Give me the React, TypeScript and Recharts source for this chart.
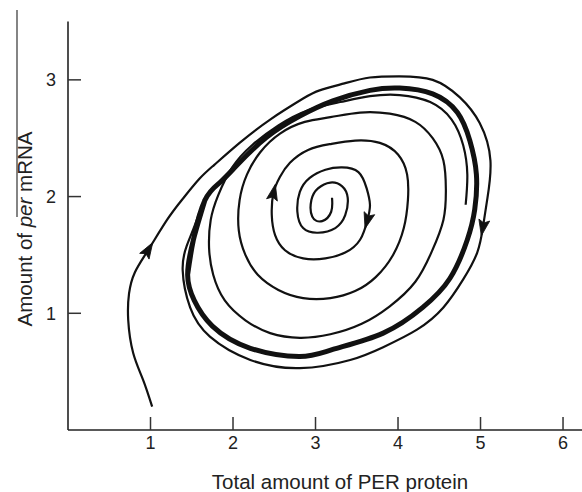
import React from 'react';
import { LineChart, Line, XAxis, YAxis } from 'recharts';

// Axis ticks and labels
const xTicks = [1, 2, 3, 4, 5, 6];
const yTicks = [1, 2, 3];
const xTitle = 'Total amount of PER protein';
const yTitleParts = ['Amount of ', 'per', ' mRNA'];

// Trajectory starting near (1, 0.2), spiralling onto the limit cycle from outside
const outerTrajectory = [
  { x: 1.02, y: 0.20 }, { x: 0.91, y: 0.43 }, { x: 0.79, y: 0.66 }, { x: 0.73, y: 0.94 },
  { x: 0.74, y: 1.17 }, { x: 0.81, y: 1.35 }, { x: 0.97, y: 1.54 }, { x: 1.20, y: 1.80 },
  { x: 1.39, y: 1.98 }, { x: 1.59, y: 2.15 }, { x: 1.77, y: 2.27 }, { x: 2.08, y: 2.46 },
  { x: 2.45, y: 2.66 }, { x: 2.85, y: 2.84 }, { x: 3.05, y: 2.91 }, { x: 3.35, y: 2.97 },
  { x: 3.66, y: 3.02 }, { x: 4.02, y: 3.03 }, { x: 4.42, y: 3.00 }, { x: 4.75, y: 2.85 },
  { x: 4.99, y: 2.63 }, { x: 5.12, y: 2.31 }, { x: 5.08, y: 1.97 }, { x: 5.03, y: 1.74 },
  { x: 4.96, y: 1.52 }, { x: 4.79, y: 1.29 }, { x: 4.55, y: 1.05 }, { x: 4.23, y: 0.86 },
  { x: 3.82, y: 0.71 }, { x: 3.42, y: 0.60 }, { x: 2.81, y: 0.53 }, { x: 2.21, y: 0.60 },
  { x: 1.72, y: 0.80 }, { x: 1.48, y: 1.05 }, { x: 1.39, y: 1.37 }, { x: 1.44, y: 1.58 },
  { x: 1.54, y: 1.76 }, { x: 1.66, y: 1.97 }, { x: 1.84, y: 2.13 }, { x: 2.05, y: 2.28 },
];
const outerArrows = [6, 23];

// Limit cycle (thick closed orbit)
const limitCycle = [
  { x: 1.45, y: 1.33 }, { x: 1.52, y: 1.63 }, { x: 1.66, y: 1.97 }, { x: 1.84, y: 2.12 },
  { x: 2.05, y: 2.27 }, { x: 2.41, y: 2.51 }, { x: 2.81, y: 2.69 }, { x: 3.21, y: 2.82 },
  { x: 3.66, y: 2.91 }, { x: 4.02, y: 2.93 }, { x: 4.42, y: 2.88 }, { x: 4.72, y: 2.72 },
  { x: 4.87, y: 2.48 }, { x: 4.95, y: 2.19 }, { x: 4.93, y: 1.89 }, { x: 4.84, y: 1.63 },
  { x: 4.63, y: 1.30 }, { x: 4.30, y: 1.05 }, { x: 3.82, y: 0.83 }, { x: 3.21, y: 0.69 },
  { x: 2.81, y: 0.63 }, { x: 2.21, y: 0.70 }, { x: 1.75, y: 0.89 }, { x: 1.53, y: 1.11 },
  { x: 1.45, y: 1.33 }, { x: 1.52, y: 1.63 }, { x: 1.66, y: 1.97 },
];

// Trajectory spiralling out from the unstable steady state
const innerSpiral = [
  { x: 3.20, y: 1.99 }, { x: 3.19, y: 1.87 }, { x: 3.08, y: 1.79 }, { x: 2.96, y: 1.83 },
  { x: 2.95, y: 1.97 }, { x: 3.03, y: 2.07 }, { x: 3.18, y: 2.12 }, { x: 3.32, y: 2.09 },
  { x: 3.39, y: 1.99 }, { x: 3.36, y: 1.84 }, { x: 3.24, y: 1.73 }, { x: 3.03, y: 1.69 },
  { x: 2.85, y: 1.73 }, { x: 2.78, y: 1.87 }, { x: 2.81, y: 2.04 }, { x: 2.93, y: 2.16 },
  { x: 3.12, y: 2.23 }, { x: 3.32, y: 2.25 }, { x: 3.52, y: 2.21 }, { x: 3.62, y: 2.07 },
  { x: 3.66, y: 1.93 }, { x: 3.63, y: 1.80 }, { x: 3.54, y: 1.63 }, { x: 3.36, y: 1.52 },
  { x: 3.12, y: 1.47 }, { x: 2.85, y: 1.47 }, { x: 2.63, y: 1.54 }, { x: 2.51, y: 1.67 },
  { x: 2.47, y: 1.84 }, { x: 2.49, y: 2.03 }, { x: 2.57, y: 2.17 }, { x: 2.69, y: 2.29 },
  { x: 2.91, y: 2.40 }, { x: 3.18, y: 2.45 }, { x: 3.48, y: 2.48 }, { x: 3.78, y: 2.46 },
  { x: 4.00, y: 2.36 }, { x: 4.11, y: 2.19 }, { x: 4.12, y: 1.97 }, { x: 4.07, y: 1.73 },
  { x: 3.94, y: 1.50 }, { x: 3.73, y: 1.31 }, { x: 3.48, y: 1.19 }, { x: 3.18, y: 1.13 },
  { x: 2.85, y: 1.13 }, { x: 2.55, y: 1.20 }, { x: 2.30, y: 1.33 }, { x: 2.15, y: 1.50 },
  { x: 2.07, y: 1.71 }, { x: 2.08, y: 1.97 }, { x: 2.17, y: 2.19 }, { x: 2.33, y: 2.38 },
  { x: 2.57, y: 2.54 }, { x: 2.87, y: 2.64 }, { x: 3.18, y: 2.68 }, { x: 3.54, y: 2.72 },
  { x: 3.90, y: 2.71 }, { x: 4.21, y: 2.64 }, { x: 4.42, y: 2.50 }, { x: 4.55, y: 2.31 },
  { x: 4.58, y: 2.06 }, { x: 4.55, y: 1.80 }, { x: 4.41, y: 1.53 }, { x: 4.21, y: 1.27 },
  { x: 3.90, y: 1.06 }, { x: 3.56, y: 0.91 }, { x: 3.18, y: 0.82 }, { x: 2.81, y: 0.79 },
  { x: 2.45, y: 0.83 }, { x: 2.15, y: 0.94 }, { x: 1.90, y: 1.11 }, { x: 1.76, y: 1.33 },
  { x: 1.71, y: 1.56 }, { x: 1.73, y: 1.80 }, { x: 1.82, y: 2.01 }, { x: 1.99, y: 2.25 },
  { x: 2.23, y: 2.44 }, { x: 2.55, y: 2.61 }, { x: 2.91, y: 2.74 }, { x: 3.30, y: 2.81 },
  { x: 3.66, y: 2.86 }, { x: 4.02, y: 2.87 }, { x: 4.39, y: 2.81 }, { x: 4.65, y: 2.66 },
  { x: 4.79, y: 2.44 }, { x: 4.84, y: 2.19 }, { x: 4.82, y: 1.93 },
];
const innerArrows = [21, 29];

const FONT = '"Liberation Sans", Arial, Helvetica, sans-serif';
const INK = '#111';

function makeArrowDot(marks: number[]) {
  return (props: any) => {
    const { cx, cy, index, points } = props;
    if (!marks.includes(index) || !points) return <g key={`d-${index}`} />;
    const prev = points[Math.max(0, index - 1)];
    const next = points[Math.min(points.length - 1, index + 1)];
    const ang = (Math.atan2(next.y - prev.y, next.x - prev.x) * 180) / Math.PI;
    return (
      <path
        key={`d-${index}`}
        d="M 9 0 L -7 -5.5 L -4 0 L -7 5.5 Z"
        transform={`translate(${cx},${cy}) rotate(${ang})`}
        fill={INK}
        stroke={INK}
        strokeWidth={0.8}
      />
    );
  };
}

const XTick = (props: any) => {
  const { x, y, payload } = props;
  return (
    <g>
      <line x1={x} y1={y} x2={x} y2={y - 13} stroke="#333" strokeWidth={1.5} />
      <text x={x} y={y + 19} textAnchor="middle" fontSize={18} fontFamily={FONT} fill="#222">
        {payload.value}
      </text>
    </g>
  );
};

const YTick = (props: any) => {
  const { x, y, payload } = props;
  return (
    <g>
      <line x1={x} y1={y} x2={x + 13} y2={y} stroke="#333" strokeWidth={1.5} />
      <text x={x - 12} y={y + 6.5} textAnchor="end" fontSize={18} fontFamily={FONT} fill="#222">
        {payload.value}
      </text>
    </g>
  );
};

const XTitle = () => (
  <text x={340} y={489} textAnchor="middle" fontSize={20.5} fontFamily={FONT} fill="#222">
    {xTitle}
  </text>
);

const YTitle = () => (
  <g>
    <path d="M 17 10 L 17 217" stroke="#333" strokeWidth={1.2} fill="none" />
    <text
      transform="translate(32,229) rotate(-90)"
      textAnchor="middle"
      fontSize={20.5}
      fontFamily={FONT}
      fill="#222"
    >
      {yTitleParts[0]}
      <tspan fontStyle="italic">{yTitleParts[1]}</tspan>
      {yTitleParts[2]}
    </text>
  </g>
);

export default function App() {
  return (
    <div style={{ position: 'absolute', left: 0, top: 0, width: 582, height: 492, background: '#fff' }}>
      <LineChart width={582} height={492} margin={{ top: 21.5, right: 0, bottom: 0, left: 0 }}>
        <XAxis
          type="number"
          dataKey="x"
          domain={[0, 6.23]}
          ticks={xTicks}
          allowDataOverflow
          height={62}
          tickSize={0}
          tickMargin={0}
          tickLine={false}
          axisLine={{ stroke: '#222', strokeWidth: 1.6 }}
          tick={<XTick />}
          label={<XTitle />}
        />
        <YAxis
          type="number"
          dataKey="y"
          domain={[0, 3.5]}
          ticks={yTicks}
          allowDataOverflow
          width={68}
          tickSize={0}
          tickMargin={0}
          tickLine={false}
          axisLine={{ stroke: '#222', strokeWidth: 1.6 }}
          tick={<YTick />}
          label={<YTitle />}
        />
        <Line
          data={limitCycle}
          dataKey="y"
          type="natural"
          stroke={INK}
          strokeWidth={5}
          dot={false}
          activeDot={false}
          isAnimationActive={false}
        />
        <Line
          data={outerTrajectory}
          dataKey="y"
          type="natural"
          stroke={INK}
          strokeWidth={2.2}
          dot={makeArrowDot(outerArrows)}
          activeDot={false}
          isAnimationActive={false}
        />
        <Line
          data={innerSpiral}
          dataKey="y"
          type="natural"
          stroke={INK}
          strokeWidth={2.2}
          dot={makeArrowDot(innerArrows)}
          activeDot={false}
          isAnimationActive={false}
        />
      </LineChart>
    </div>
  );
}
